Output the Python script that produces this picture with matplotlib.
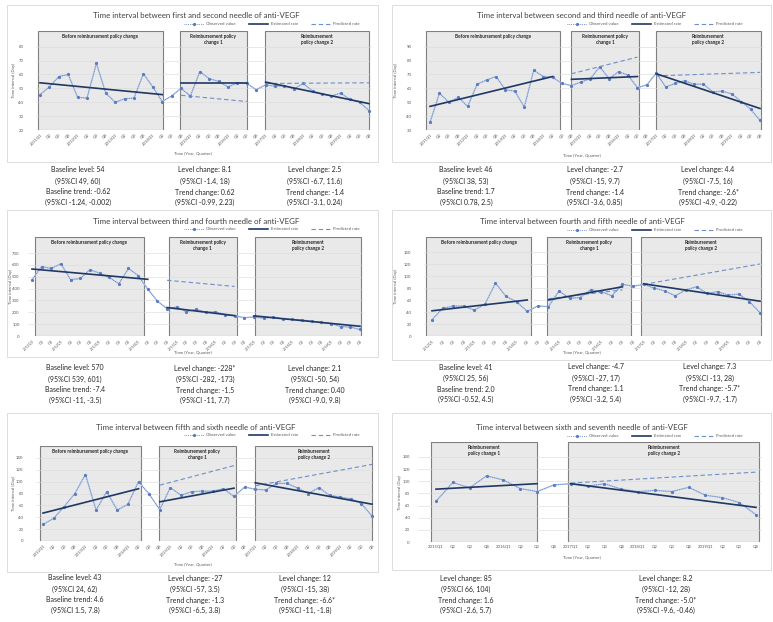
import matplotlib.pyplot as plt
from matplotlib.lines import Line2D
from matplotlib.patches import Rectangle

# interrupted time series of anti-VEGF injection intervals, six panels

plt.rcParams["font.family"] = ["Lato", "DejaVu Sans"]

W, H = 773, 622

c_obs_line = "#b4c8e8"
c_obs_dot = "#5a7bbf"
c_est = "#1f3864"
c_pred = "#6d8fca"
c_box = "#e9e9e9"
c_text = "#404040"

# quarter labels
q_2011q1 = ["2011Q1", "Q2", "Q3", "Q4", "2012Q1", "Q2", "Q3", "Q4", "2013Q1", "Q2", "Q3", "Q4",
            "2014Q1", "Q2", "Q3", "Q4", "2015Q1", "Q2", "Q3", "Q4", "2016Q1", "Q2", "Q3", "Q4",
            "2017Q1", "Q2", "Q3", "Q4", "2018Q1", "Q2", "Q3", "Q4", "2019Q1", "Q2", "Q3", "Q4"]
q_2011q2 = ["2011Q2", "Q3", "Q4", "2012Q1", "Q2", "Q3", "Q4", "2013Q1", "Q2", "Q3", "Q4",
            "2014Q1", "Q2", "Q3", "Q4", "2015Q1", "Q2", "Q3", "Q4", "2016Q1", "Q2", "Q3", "Q4",
            "2017Q1", "Q2", "Q3", "Q4", "2018Q1", "Q2", "Q3", "Q4", "2019Q1", "Q2", "Q3", "Q4"]
q_2012q1 = ["2012Q1", "Q2", "Q3", "Q4", "2013Q1", "Q2", "Q3", "Q4",
            "2014Q1", "Q2", "Q3", "Q4", "2015Q1", "Q2", "Q3", "Q4", "2016Q1", "Q2", "Q3", "Q4",
            "2017Q1", "Q2", "Q3", "Q4", "2018Q1", "Q2", "Q3", "Q4", "2019Q1", "Q2", "Q3", "Q4"]
q_2015q1 = ["2015Q1", "Q2", "Q3", "Q4", "2016Q1", "Q2", "Q3", "Q4",
            "2017Q1", "Q2", "Q3", "Q4", "2018Q1", "Q2", "Q3", "Q4", "2019Q1", "Q2", "Q3", "Q4"]

# observed values (days)
obs_1 = [45.5, 51, 58.5, 60, 43.5, 43, 68, 46.5, 40, 42.5, 43, 60.5, 51, 40.5, 44.5, 50, 44.5, 62,
         57, 55, 51, 54, 53.5, 49, 52.5, 51.5, 52, 49.5, 53.5, 48, 46, 44.5, 46.5, 42, 40, 34]
obs_2 = [35.5, 56.5, 50, 53.5, 47, 63, 66, 68.5, 59, 58, 46.5, 73, 68.5, 68, 63.5, 62, 64.5, 67,
         75.5, 67, 72, 69.5, 60.5, 62.5, 71, 61, 63.5, 65.5, 63, 63, 57.5, 58, 56, 50.5, 45, 37]
obs_3 = [475, 585, 570, 610, 475, 485, 560, 530, 495, 440, 570, 510, 395, 295, 230, 245, 205, 225,
         200, 205, 180, 170, 155, 160, 150, 160, 145, 140, 135, 125, 115, 105, 80, 75, 55]
obs_4 = [27, 46, 50, 50, 43, 53, 88, 66, 57, 41, 50, 49, 75, 63, 64, 77, 74, 67, 86, 83,
         86, 80, 75, 67, 77, 82, 71, 74, 68, 70, 57, 39]
obs_5 = [28, 38, 58, 80, 112, 52, 83, 52, 62, 100, 79, 53, 90, 77, 83, 84, 84, 88, 75, 91,
         87, 86, 97, 97, 89, 80, 90, 77, 74, 71, 63, 42]
obs_6 = [67, 98, 89, 109, 102, 88, 83, 94, 96, 92, 96, 87, 83, 85, 83, 90, 77, 73, 65, 45]

# segmented regression lines: (first index, last index, start value, end value)
est_1 = [(0, 13, 54, 45.5), (15, 22, 54, 54), (24, 35, 54.5, 39)]
pred_1 = [(15, 22, 45, 40.5), (24, 35, 53.5, 54)]
est_2 = [(0, 13, 47, 68.5), (15, 22, 66.5, 68.5), (24, 35, 70.5, 45.5)]
pred_2 = [(15, 22, 70.5, 82.5), (24, 35, 69, 71.5)]
est_3 = [(0, 12, 565, 478), (14, 21, 240, 172), (23, 34, 170, 82)]
pred_3 = [(14, 21, 470, 418)]
est_4 = [(0, 9, 42, 60), (11, 18, 60, 82), (20, 31, 87, 58)]
pred_4 = [(11, 18, 62, 77), (20, 31, 86, 120)]
est_5 = [(0, 9, 47, 88), (11, 18, 66, 89), (20, 31, 98, 62)]
pred_5 = [(11, 18, 94, 127), (20, 31, 93, 129)]
est_6 = [(0, 6, 87, 96), (8, 19, 96, 57)]
pred_6 = [(8, 19, 97, 115)]

titles = [
    "Time interval between first and second needle of anti-VEGF",
    "Time interval between second and third needle of anti-VEGF",
    "Time interval between third and fourth needle of anti-VEGF",
    "Time interval between fourth and fifth needle of anti-VEGF",
    "Time interval between fifth and sixth needle of anti-VEGF",
    "Time interval between sixth and seventh needle of anti-VEGF",
]

h_before = "Before reimbursement policy change"
h_pol1 = "Reimbursement policy\nchange 1"
h_pol2 = "Reimbursement\npolicy change 2"
h_pol1b = "Reimbursement\npolicy change 1"

notes_1 = [["Baseline level: 54", "(95%CI 49, 60)", "Baseline trend: -0.62", "(95%CI -1.24, -0.002)"],
           ["Level change: 8.1", "(95%CI -1.4, 18)", "Trend change: 0.62", "(95%CI -0.99, 2.23)"],
           ["Level change: 2.5", "(95%CI -6.7, 11.6)", "Trend change: -1.4", "(95%CI -3.1, 0.24)"]]
notes_2 = [["Baseline level: 46", "(95%CI 38, 53)", "Baseline trend: 1.7", "(95%CI 0.78, 2.5)"],
           ["Level change: -2.7", "(95%CI -15, 9.7)", "Trend change: -1.4", "(95%CI -3.6, 0.85)"],
           ["Level change: 4.4", "(95%CI -7.5, 16)", "Trend change: -2.6*", "(95%CI -4.9, -0.22)"]]
notes_3 = [["Baseline level: 570", "(95%CI 539, 601)", "Baseline trend: -7.4", "(95%CI -11, -3.5)"],
           ["Level change: -228*", "(95%CI -282, -173)", "Trend change: -1.5", "(95%CI -11, 7.7)"],
           ["Level change: 2.1", "(95%CI -50, 54)", "Trend change: 0.40", "(95%CI -9.0, 9.8)"]]
notes_4 = [["Baseline level: 41", "(95%CI 25, 56)", "Baseline trend: 2.0", "(95%CI -0.52, 4.5)"],
           ["Level change: -4.7", "(95%CI -27, 17)", "Trend change: 1.1", "(95%CI -3.2, 5.4)"],
           ["Level change: 7.3", "(95%CI -13, 28)", "Trend change: -5.7*", "(95%CI -9.7, -1.7)"]]
notes_5 = [["Baseline level: 43", "(95%CI 24, 62)", "Baseline trend: 4.6", "(95%CI 1.5, 7.8)"],
           ["Level change: -27", "(95%CI -57, 3.5)", "Trend change: -1.3", "(95%CI -6.5, 3.8)"],
           ["Level change: 12", "(95%CI -15, 38)", "Trend change: -6.6*", "(95%CI -11, -1.8)"]]
notes_6 = [["Level change: 85", "(95%CI 66, 104)", "Trend change: 1.6", "(95%CI -2.6, 5.7)"],
           ["Level change: 8.2", "(95%CI -12, 28)", "Trend change: -5.0*", "(95%CI -9.6, -0.46)"]]


def px_rect(l, t, r, b):
    return [l / W, 1 - b / H, (r - l) / W, (b - t) / H]


def fig_text(fig, x, y, s, **kw):
    fig.text(x / W, 1 - y / H, s, **kw)


def draw_panel(fig, lay, title, labels, obs, est, pred, boxes, yticks, notes):
    """Draw one chart: frame, shaded periods, series, legend and notes."""
    fl, ft, fr, fb = lay["frame"]
    fig.patches.append(Rectangle((fl / W, 1 - fb / H), (fr - fl) / W, (fb - ft) / H,
                                 transform=fig.transFigure, fill=False, ec="#dcdcdc", lw=0.7))

    l, t, r, b = lay["axes"]
    ax = fig.add_axes(px_rect(l, t, r, b))
    first, last = lay["ticks"]
    step = (last - first) / (len(labels) - 1)
    ax.set_xlim((l - first) / step, (r - first) / step)
    ax.set_ylim(yticks[0], lay["ytop"])

    ax.set_yticks(yticks)
    ax.set_xticks(range(len(labels)))
    if lay["rot"]:
        ax.set_xticklabels(labels, rotation=45, ha="right", rotation_mode="anchor")
    else:
        ax.set_xticklabels(labels)
    ax.tick_params(labelsize=3.1, colors="#595959", length=0)
    ax.tick_params(axis="x", pad=2, labelsize=lay["xts"])
    ax.tick_params(axis="y", pad=lay["ypad"])
    for s in ax.spines.values():
        s.set_visible(False)
    ax.grid(axis="y", color="#d9d9d9", lw=0.4, zorder=0)
    ax.set_axisbelow(True)

    fig_text(fig, lay["ylab"], (t + b) / 2, "Time interval (Day)", rotation=90, ha="center",
             va="center", fontsize=3.1, color="#595959")
    fig_text(fig, (lay["frame"][0] + lay["frame"][2]) / 2, lay["xlab"], "Time (Year, Quarter)",
             ha="center", va="center", fontsize=3.1, color="#595959")

    # shaded periods with headings
    for x0, x1, head in boxes:
        ax.add_patch(Rectangle((x0, yticks[0]), x1 - x0, lay["ytop"] - yticks[0],
                               fc=c_box, ec="#7f7f7f", lw=0.8, zorder=0.5))
        ax.text((x0 + x1) / 2, lay["ytop"] - (lay["ytop"] - yticks[0]) * 0.03, head,
                ha="center", va="top", fontsize=3.3, fontweight="bold", color="#262626",
                linespacing=1.3, zorder=3)

    xs = range(len(obs))
    ax.plot(xs, obs, color=c_obs_line, lw=1.0, zorder=2)
    ax.plot(xs, obs, color=c_obs_dot, lw=0.6, ls=(0, (1, 1.2)), marker="o", ms=1.3, zorder=2.2)
    for i0, i1, v0, v1 in pred:
        ax.plot([i0, i1], [v0, v1], color=c_pred, lw=0.8, ls=(0, (4, 2.5)), zorder=2.4)
    for i0, i1, v0, v1 in est:
        ax.plot([i0, i1], [v0, v1], color=c_est, lw=1.2, zorder=2.5)

    fig_text(fig, lay["title"][0], lay["title"][1], title, ha="center", va="center",
             fontsize=5.7, color=c_text)

    handles = [
        Line2D([], [], color=c_obs_dot, lw=0.6, ls=(0, (1, 1.2)), marker="o", ms=1.3),
        Line2D([], [], color=c_est, lw=1.2),
        Line2D([], [], color=c_pred, lw=0.8, ls=(0, (4, 2.5))),
    ]
    fig.legend(handles, ["Observed value", "Estimated rate", "Predicted rate"],
               loc="center", bbox_to_anchor=(lay["legend"][0] / W, 1 - lay["legend"][1] / H),
               ncol=3, frameon=False, fontsize=3.1, handlelength=4.5, columnspacing=3,
               handletextpad=0.6, labelcolor="#595959")

    ny = lay["notes_y"]
    for cx, col in zip(lay["notes_x"], notes):
        for k, line in enumerate(col):
            fig_text(fig, cx, ny + [0, 11, 22, 32.5][k], line, ha="center", va="center",
                     fontsize=5.0, color="#262626")
    return ax


lay_1 = dict(frame=(7, 5, 378, 162), axes=(36, 31, 371, 130), ticks=(40, 369), ytop=91.3,
             rot=True, xts=3.1, ypad=9, ylab=14, xlab=153, title=(196, 16), legend=(272, 24),
             notes_x=(78, 205, 315), notes_y=170)
lay_2 = dict(frame=(392, 5, 771, 162), axes=(424, 31, 763, 130), ticks=(430, 760), ytop=101.3,
             rot=True, xts=3.1, ypad=9, ylab=396, xlab=155, title=(582, 16), legend=(655, 24),
             notes_x=(466, 595, 708), notes_y=170)
lay_3 = dict(frame=(7, 210, 378, 357), axes=(28, 237, 363, 336), ticks=(32, 360), ytop=835,
             rot=True, xts=2.7, ypad=6, ylab=11, xlab=352, title=(196, 221), legend=(272, 229),
             notes_x=(75, 205, 315), notes_y=368)
lay_4 = dict(frame=(392, 210, 771, 360), axes=(424, 237, 763, 336), ticks=(432, 760), ytop=165,
             rot=True, xts=2.7, ypad=9, ylab=396, xlab=352, title=(582, 221), legend=(655, 230),
             notes_x=(466, 596, 710), notes_y=367)
lay_5 = dict(frame=(7, 413, 378, 572), axes=(36, 446, 374, 541), ticks=(43, 372), ytop=160,
             rot=True, xts=3.1, ypad=9, ylab=14, xlab=564, title=(196, 427), legend=(272, 435),
             notes_x=(75, 195, 305), notes_y=578)
lay_6 = dict(frame=(392, 413, 771, 570), axes=(418, 442, 762, 542), ticks=(436, 756), ytop=164.6,
             rot=False, xts=3.1, ypad=6, ylab=400, xlab=557, title=(582, 427), legend=(655, 436),
             notes_x=(466, 666), notes_y=578)

yt_1 = [20, 30, 40, 50, 60, 70, 80]
yt_2 = [30, 40, 50, 60, 70, 80, 90]
yt_3 = [0, 100, 200, 300, 400, 500, 600, 700]
yt_140 = [0, 20, 40, 60, 80, 100, 120, 140]


def main():
    fig = plt.figure(figsize=(W / 100, H / 100), dpi=100)

    draw_panel(fig, lay_1, titles[0], q_2011q1, obs_1, est_1, pred_1,
               [(-0.25, 13.1, h_before), (14.9, 22.0, h_pol1), (23.9, 35.0, h_pol2)], yt_1, notes_1)
    draw_panel(fig, lay_2, titles[1], q_2011q1, obs_2, est_2, pred_2,
               [(-0.4, 13.8, h_before), (14.95, 22.2, h_pol1), (23.95, 35.1, h_pol2)], yt_2, notes_2)
    draw_panel(fig, lay_3, titles[2], q_2011q2, obs_3, est_3, pred_3,
               [(0.3, 11.6, h_before), (14.2, 21.2, h_pol1), (23.1, 34.1, h_pol2)], yt_3, notes_3)
    draw_panel(fig, lay_4, titles[3], q_2012q1, obs_4, est_4, pred_4,
               [(-0.55, 9.4, h_before), (10.9, 18.8, h_pol1), (19.8, 31.1, h_pol2)], yt_140, notes_4)
    draw_panel(fig, lay_5, titles[4], q_2012q1, obs_5, est_5, pred_5,
               [(-0.3, 9.2, h_before), (10.9, 18.2, h_pol1), (20.0, 31.0, h_pol2)], yt_140, notes_5)
    draw_panel(fig, lay_6, titles[5], q_2015q1, obs_6, est_6, pred_6,
               [(-0.3, 6.0, h_pol1b), (7.85, 19.2, h_pol2)], yt_140, notes_6)

    fig.savefig("out.png", dpi=100, facecolor="white")


if __name__ == "__main__":
    main()
